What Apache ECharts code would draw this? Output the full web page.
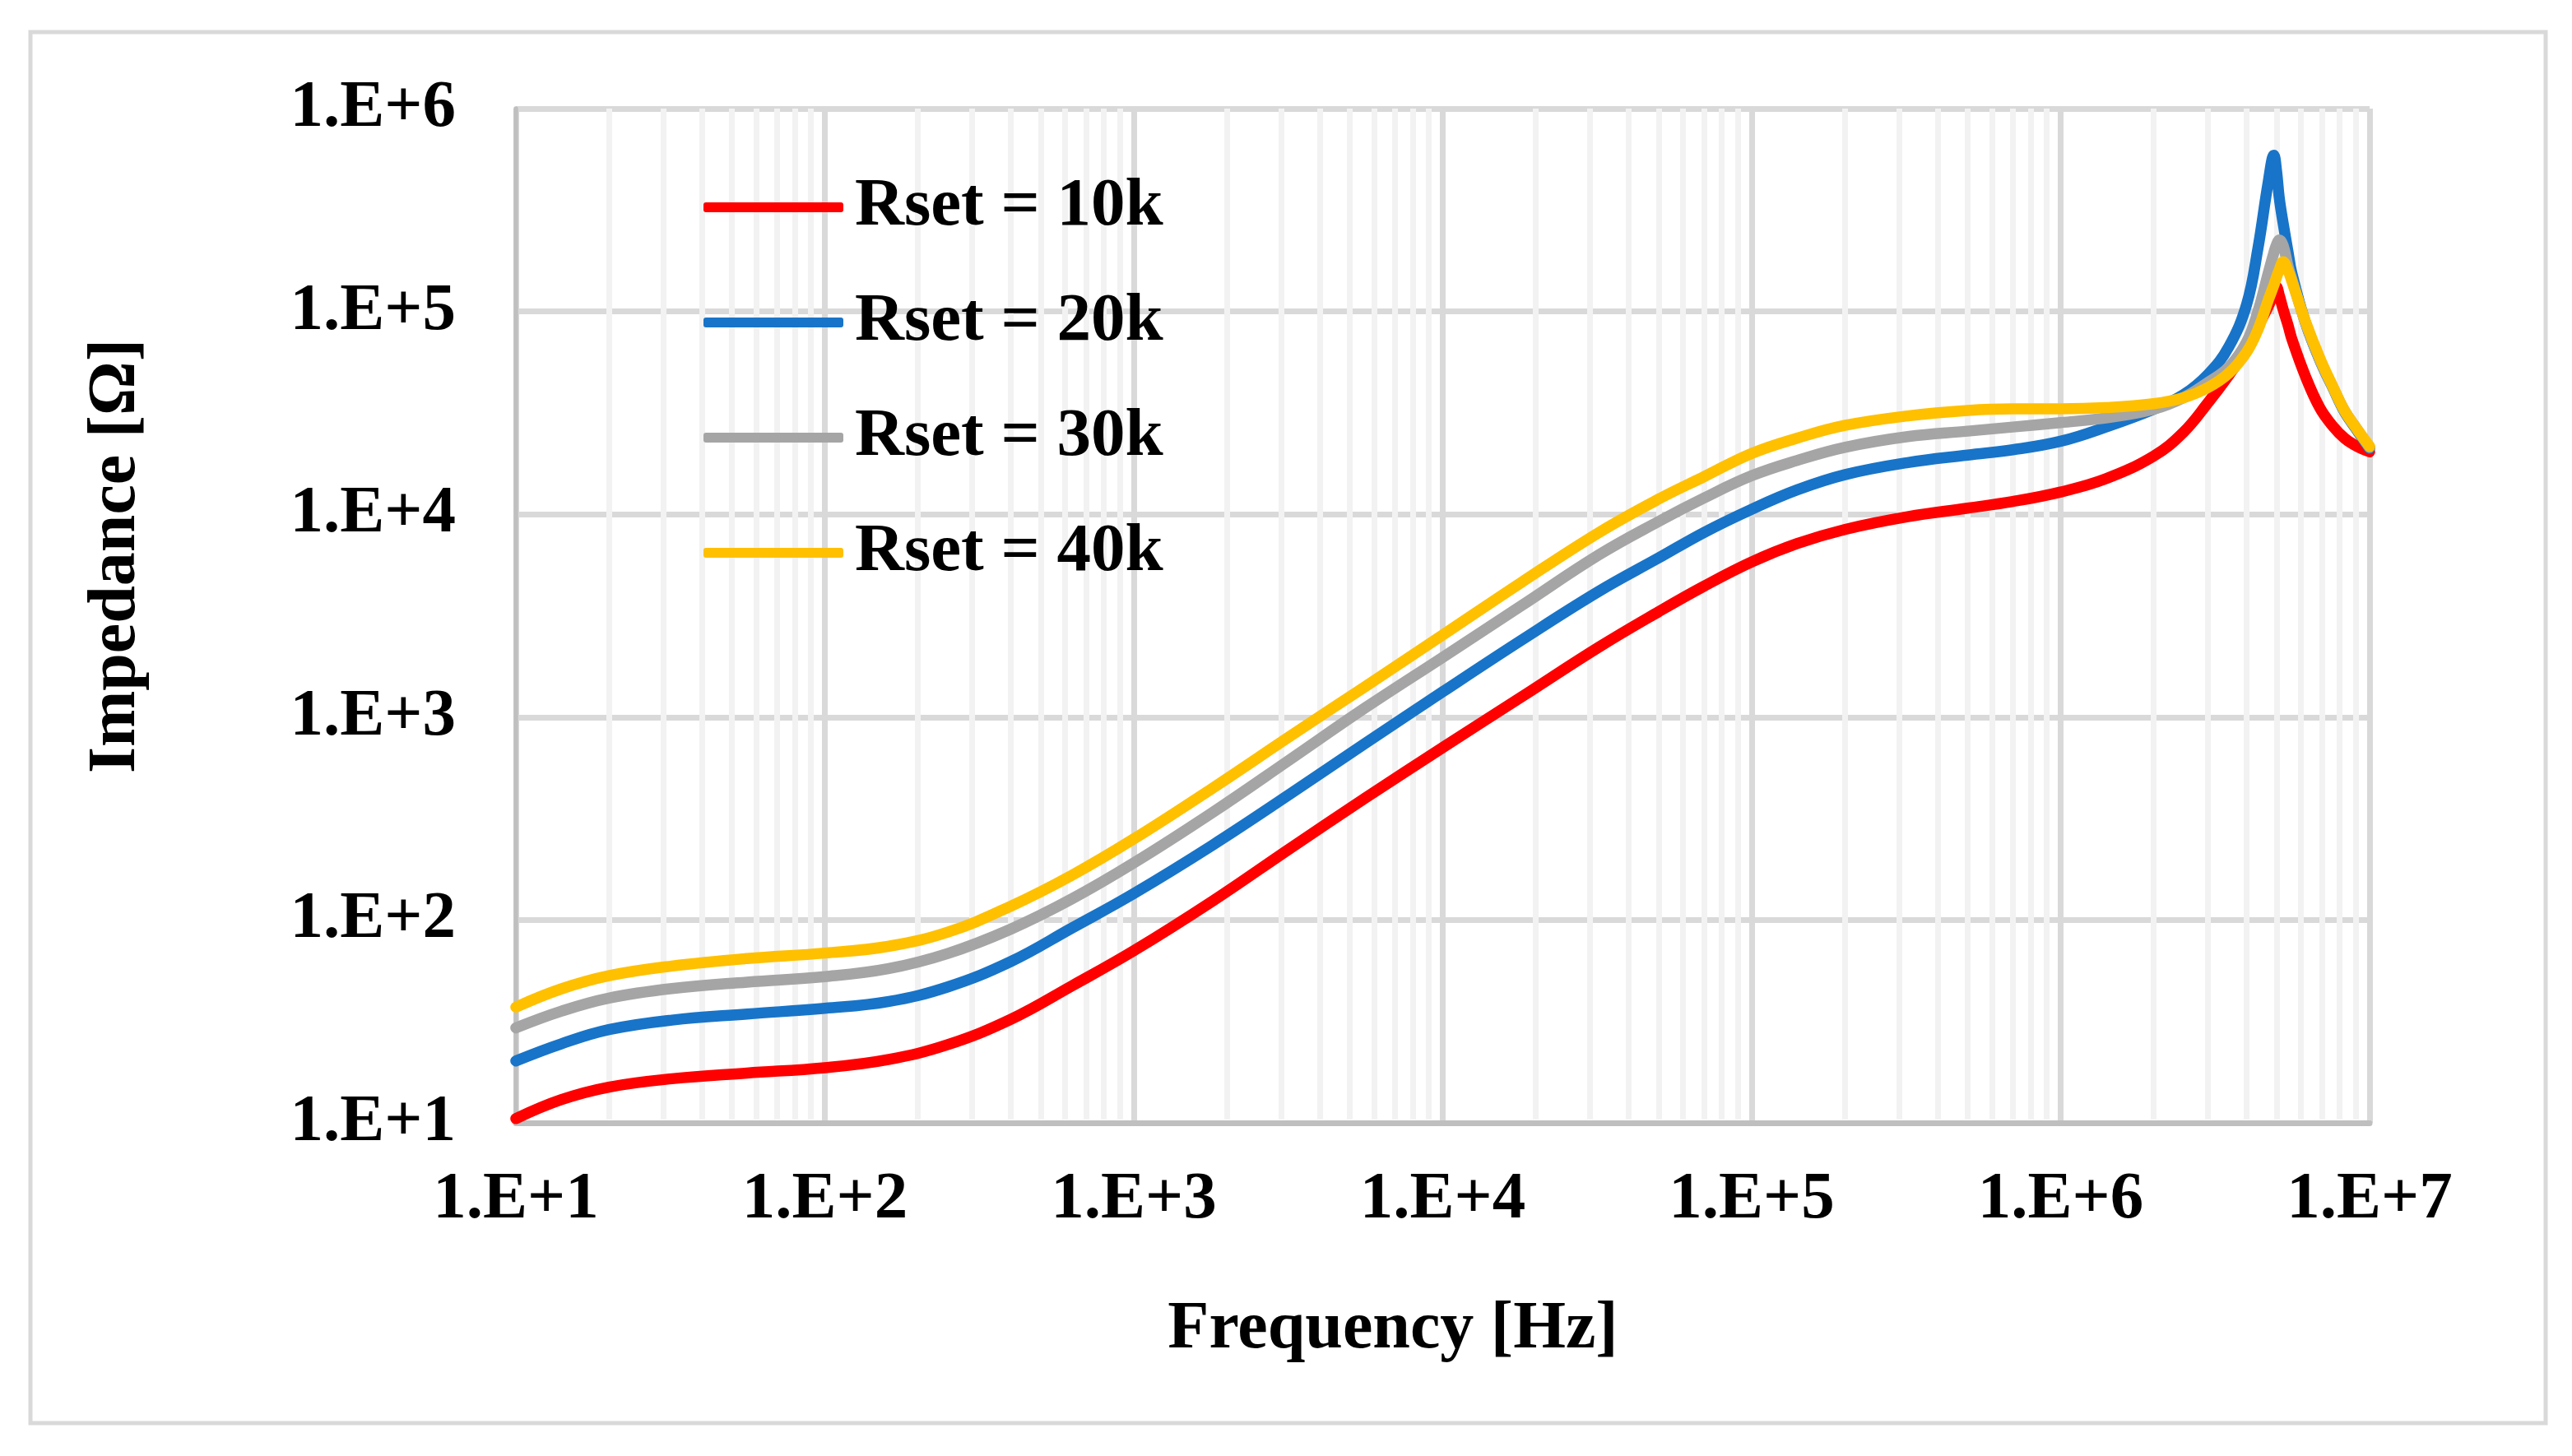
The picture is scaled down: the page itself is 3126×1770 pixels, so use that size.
<!DOCTYPE html>
<html>
<head>
<meta charset="utf-8">
<script src="https://cdn.jsdelivr.net/npm/echarts@6/dist/echarts.min.js"></script>
<style>
html,body{margin:0;padding:0;background:#ffffff;}
#chart{width:3126px;height:1770px;}
</style>
</head>
<body>
<div id="chart"></div>
<script>
// Frequency points [Hz]
const freqHz = [10, 14, 20, 32, 56, 100, 160, 250, 400, 630,
  1000, 1800, 3200, 5600, 1e4, 1.8e4, 3.2e4, 5e4, 7e4, 1e5,
  1.4e5, 2e5, 3.2e5, 5e5, 7e5, 1e6, 1.4e6, 2e6, 2.5e6, 3e6,
  3.5e6, 4e6, 4.35e6, 4.7e6, 4.9e6, 5e6, 5.1e6, 5.25e6, 5.45e6, 5.6e6,
  6.2e6, 6.9e6, 7.6e6, 8.3e6, 9.1e6, 1e7];

// Impedance [Ohm] per Rset
const rset10k = [10.5, 13.0, 15.0, 16.5, 17.6, 18.7, 20.5, 24.3, 32.4, 47.3,
  70.5, 124, 225, 398, 708, 1259, 2213, 3311, 4416, 5821,
  7161, 8414, 9727, 10720, 11560, 12880, 14960, 19360, 25410, 35480,
  48420, 65310, 84140, 105900, 123000, 131800, 120200, 102300, 85110, 73280,
  47860, 33500, 27230, 23710, 21630, 20320];
const rset20k = [20.2, 24.5, 28.8, 32.1, 34.4, 36.7, 39.6, 46.8, 62.4, 91.2,
  135, 234, 417, 741, 1334, 2399, 4169, 6095, 8128, 10590,
  13180, 15670, 17990, 19590, 20800, 22910, 26920, 32960, 38900, 48980,
  66830, 108400, 204200, 436500, 588800, 489800, 363100, 272300, 195000, 154900,
  88100, 57540, 42170, 31990, 26000, 21130];
const rset30k = [29.4, 35.5, 41.2, 45.9, 49.4, 52.6, 57.5, 68.4, 90.2, 127,
  191, 339, 617, 1109, 1972, 3548, 6310, 9226, 12020, 15490,
  18410, 21380, 24150, 25700, 26920, 28310, 29850, 32960, 37580, 44670,
  53090, 70790, 100000, 154900, 195000, 213800, 224900, 211300, 166000, 144500,
  88100, 57810, 42460, 32360, 26300, 21380];
const rset40k = [37.2, 45.7, 53.1, 59.3, 64.6, 68.7, 74.1, 87.1, 117, 166,
  251, 447, 804, 1413, 2541, 4624, 8128, 11890, 15310, 19950,
  23710, 27420, 30550, 32510, 33110, 33110, 33570, 35080, 37580, 42170,
  49550, 63100, 81280, 113800, 134900, 147900, 160300, 175800, 158500, 141300,
  89130, 58880, 42660, 32360, 26300, 21630];

const seriesNames = ['Rset = 10k', 'Rset = 20k', 'Rset = 30k', 'Rset = 40k'];
const seriesValues = [rset10k, rset20k, rset30k, rset40k];
const seriesColors = ['#FF0000', '#1874C8', '#A5A5A5', '#FFC000'];

const xTickLabels = ['1.E+1', '1.E+2', '1.E+3', '1.E+4', '1.E+5', '1.E+6', '1.E+7'];
const yTickLabels = ['1.E+1', '1.E+2', '1.E+3', '1.E+4', '1.E+5', '1.E+6'];
const xTitle = 'Frequency [Hz]';
const yTitle = 'Impedance [\u03A9]';

const FONT = "'Liberation Serif', 'Times New Roman', serif";

// minor vertical gridlines at 2..9 x each decade
const minorFreqs = [];
[10, 100, 1000, 1e4, 1e5, 1e6].forEach(function (d) {
  for (let m = 2; m <= 9; m++) minorFreqs.push(m * d);
});

const chart = echarts.init(document.getElementById('chart'), null, {renderer: 'canvas'});

const lineSeries = seriesNames.map(function (name, i) {
  return {
    name: name,
    type: 'line',
    data: freqHz.map(function (f, k) { return [f, seriesValues[i][k]]; }),
    showSymbol: false,
    symbol: 'none',
    smooth: 0.4,
    z: 3,
    lineStyle: {color: seriesColors[i], width: 13.5, cap: 'round', join: 'round'},
    itemStyle: {color: seriesColors[i]},
    emphasis: {disabled: true}
  };
});

const minorSeries = {
  type: 'line',
  data: [],
  z: 1,
  silent: true,
  markLine: {
    z: 1,
    silent: true,
    symbol: ['none', 'none'],
    label: {show: false},
    animation: false,
    lineStyle: {color: '#F2F2F2', width: 7, type: 'solid'},
    emphasis: {disabled: true},
    data: minorFreqs.map(function (f) {
      return [{coord: [f, 10.4]}, {coord: [f, 1e6]}];
    })
  }
};

chart.setOption({
  animation: false,
  backgroundColor: '#ffffff',
  grid: {left: 627, right: 246, top: 132, bottom: 405, containLabel: false},
  legend: {
    data: seriesNames,
    orient: 'vertical',
    left: 855,
    top: 182,
    padding: 0,
    itemGap: 0,
    itemWidth: 170,
    itemHeight: 12,
    icon: 'roundRect',
    selectedMode: false,
    textStyle: {
      fontFamily: FONT, fontWeight: 'bold', fontSize: 83, color: '#000',
      lineHeight: 140, padding: [0, 0, 0, 9]
    }
  },
  xAxis: {
    type: 'log',
    logBase: 10,
    min: 10,
    max: 1e7,
    splitNumber: 6,
    axisLine: {show: true, lineStyle: {color: '#BFBFBF', width: 7}},
    axisTick: {show: false},
    axisLabel: {
      margin: 54,
      fontFamily: FONT, fontWeight: 'bold', fontSize: 81, color: '#000',
      formatter: function (v) { return xTickLabels[Math.round(Math.log10(v)) - 1]; }
    },
    splitLine: {show: true, lineStyle: {color: '#D9D9D9', width: 7}}
  },
  yAxis: {
    type: 'log',
    logBase: 10,
    min: 10,
    max: 1e6,
    splitNumber: 5,
    axisLine: {show: true, lineStyle: {color: '#BFBFBF', width: 5.5}},
    axisTick: {show: false},
    axisLabel: {
      margin: 73,
      fontFamily: FONT, fontWeight: 'bold', fontSize: 81, color: '#000',
      formatter: function (v) { return yTickLabels[Math.round(Math.log10(v)) - 1]; }
    },
    splitLine: {show: true, lineStyle: {color: '#D9D9D9', width: 7}}
  },
  graphic: [
    {
      type: 'rect', z: -10, silent: true,
      shape: {x: 37, y: 39, width: 3057, height: 1691},
      style: {fill: null, stroke: '#D9D9D9', lineWidth: 5}
    },
    {
      type: 'text', silent: true,
      x: 142, y: 676, rotation: Math.PI / 2,
      style: {
        text: yTitle, fill: '#000', align: 'center', verticalAlign: 'middle',
        font: "bold 82px 'Liberation Serif', 'Times New Roman', serif"
      }
    },
    {
      type: 'text', silent: true,
      x: 1693, y: 1617,
      style: {
        text: xTitle, fill: '#000', align: 'center', verticalAlign: 'middle',
        font: "bold 82px 'Liberation Serif', 'Times New Roman', serif"
      }
    }
  ],
  series: [minorSeries].concat(lineSeries)
});
</script>
</body>
</html>
